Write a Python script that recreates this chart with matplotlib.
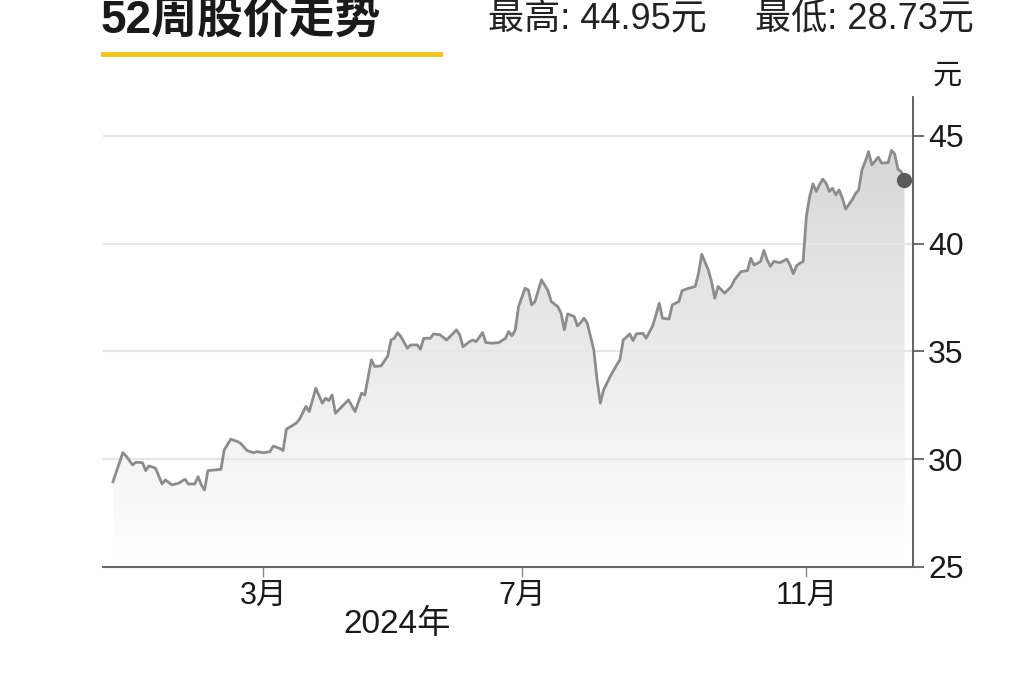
import numpy as np
import matplotlib
matplotlib.use("Agg")
import matplotlib.pyplot as plt
from matplotlib import font_manager
from matplotlib.patches import PathPatch
from matplotlib.colors import LinearSegmentedColormap

# ---------------- data ----------------
days = [0, 3, 4, 6, 7, 9, 10, 11, 13, 15, 16, 18, 20, 22, 23, 25, 26, 27, 28, 29,
        33, 34, 36, 38, 39, 41, 43, 44, 46, 48, 49, 51, 52, 53, 56, 57, 59, 60, 62, 64,
        65, 66, 67, 68, 70, 72, 74, 76, 77, 79, 80, 82, 84, 85, 86, 87, 88, 90, 91, 93,
        94, 95, 97, 98, 100, 102, 105, 106, 107, 109, 110, 111, 113, 114, 116, 118, 120, 121, 122, 123,
        124, 126, 127, 128, 129, 131, 133, 134, 136, 137, 138, 139, 141, 142, 143, 144, 145, 147, 148, 149,
        150, 151, 152, 154, 155, 156, 158, 159, 160, 162, 163, 165, 166, 167, 168, 170, 171, 173, 174, 176,
        178, 179, 180, 182, 183, 184, 185, 187, 189, 190, 192, 194, 195, 196, 198, 199, 200, 201, 202, 204,
        206, 207, 208, 209, 210, 211, 212, 213, 214, 215, 216, 217, 218, 219, 220, 221, 222, 223, 224, 226,
        227, 228, 229, 230, 231, 232, 234, 235, 237, 238, 239, 240, 241, 242]
prices = [28.96, 30.30, 30.15, 29.73, 29.86, 29.84, 29.47, 29.69, 29.58, 28.85, 29.04, 28.81, 28.88, 29.07, 28.85, 28.85, 29.19, 28.81, 28.57, 29.47,
          29.53, 30.43, 30.93, 30.82, 30.74, 30.40, 30.30, 30.35, 30.30, 30.35, 30.61, 30.50, 30.40, 31.39, 31.67, 31.85, 32.45, 32.21, 33.29, 32.60,
          32.83, 32.72, 32.98, 32.13, 32.44, 32.75, 32.21, 33.06, 32.98, 34.61, 34.30, 34.33, 34.79, 35.53, 35.61, 35.87, 35.69, 35.15, 35.30, 35.30,
          35.10, 35.61, 35.61, 35.81, 35.77, 35.53, 36.00, 35.77, 35.22, 35.45, 35.53, 35.45, 35.87, 35.41, 35.38, 35.41, 35.61, 35.92, 35.72, 36.00,
          37.08, 37.93, 37.85, 37.16, 37.31, 38.32, 37.82, 37.31, 37.08, 36.77, 36.00, 36.74, 36.62, 36.18, 36.34, 36.54, 36.31, 35.07, 33.68, 32.60,
          33.21, 33.52, 33.83, 34.37, 34.61, 35.53, 35.81, 35.50, 35.81, 35.84, 35.61, 36.18, 36.69, 37.24, 36.54, 36.50, 37.16, 37.31, 37.82, 37.93,
          38.01, 38.60, 39.50, 38.78, 38.24, 37.47, 38.01, 37.70, 38.01, 38.32, 38.70, 38.75, 39.32, 39.01, 39.17, 39.68, 39.25, 38.94, 39.17, 39.12,
          39.28, 39.01, 38.60, 38.97, 39.09, 39.17, 41.26, 42.18, 42.77, 42.42, 42.73, 42.99, 42.81, 42.42, 42.57, 42.26, 42.49, 42.11, 41.60, 42.03,
          42.31, 42.49, 43.42, 43.81, 44.27, 43.65, 44.01, 43.73, 43.76, 44.32, 44.16, 43.45, 43.34, 42.96]

month_ticks = [46, 125, 212]
month_labels = ["3月", "7月", "11月"]
y_ticks = [25, 30, 35, 40, 45]
year_label = "2024年"
title = "52周股价走势"
high_text = "最高: 44.95元"
low_text = "最低: 28.73元"
unit_text = "元"

# ---------------- fonts ----------------
def has_font(name):
    try:
        font_manager.findfont(font_manager.FontProperties(family=name), fallback_to_default=False)
        return True
    except Exception:
        return False

narrow = "Liberation Sans Narrow" if has_font("Liberation Sans Narrow") else "Liberation Sans"
FAM = [narrow, "Noto Sans CJK SC", "DejaVu Sans"]
plt.rcParams["font.family"] = FAM

# ---------------- figure ----------------
W, H = 1024, 682
fig = plt.figure(figsize=(W / 100, H / 100), dpi=100)
fig.patch.set_facecolor("white")

def px(x, y):
    return x / W, 1 - y / H

left, right, top, bottom = 103, 913, 97, 567
ax = fig.add_axes([left / W, 1 - bottom / H, (right - left) / W, (bottom - top) / H])
ax.set_facecolor("white")

ymin, ymax = 25, 46.8
xmin, xmax = -3.06, 244.6
ax.set_xlim(xmin, xmax)
ax.set_ylim(ymin, ymax)

# gradient fill under the line
poly = ax.fill_between(days, prices, ymin, facecolor="none", edgecolor="none")
path = poly.get_paths()[0]
patch = PathPatch(path, transform=ax.transData, facecolor="none", edgecolor="none")
ax.add_patch(patch)
cmap = LinearSegmentedColormap.from_list("g", ["#ffffff", "#d2d2d2"])
grad = np.linspace(0, 1, 256).reshape(-1, 1)
im = ax.imshow(grad, extent=[xmin, xmax, ymin, ymax], origin="lower", aspect="auto",
               cmap=cmap, vmin=0, vmax=1, zorder=1, interpolation="bicubic")
im.set_clip_path(patch)

# grid lines
for yv in y_ticks[1:]:
    ax.axhline(yv, color="#e6e6e6", lw=1.5, zorder=1.5)

# line and end marker
ax.plot(days, prices, color="#8c8c8c", lw=2.0, zorder=3, solid_joinstyle="round")
ax.plot(days[-1], prices[-1], "o", color="#5a5a5a", ms=10, zorder=4)

# spines
for s in ["top", "left"]:
    ax.spines[s].set_visible(False)
ax.spines["right"].set_color("#555555")
ax.spines["right"].set_linewidth(1.3)
ax.spines["bottom"].set_color("#666666")
ax.spines["bottom"].set_linewidth(1.5)

ax.yaxis.tick_right()
ax.set_yticks(y_ticks)
ax.set_yticklabels([str(v) for v in y_ticks])
ax.tick_params(axis="y", direction="out", length=8, width=1.2, color="#555555",
               labelsize=23, labelcolor="#1a1a1a", pad=3)
ax.set_xticks(month_ticks)
ax.set_xticklabels(month_labels)
ax.tick_params(axis="x", direction="out", length=7, width=1.0, color="#888888",
               labelsize=22, labelcolor="#1a1a1a", pad=3)

# texts
fig.text(*px(397, 624), year_label, fontsize=24, color="#1a1a1a", ha="center", va="center")
fig.text(*px(947, 76), unit_text, fontsize=21, color="#1a1a1a", ha="center", va="center")
fig.text(*px(101, 21), title, fontsize=33, fontweight="bold", color="#1a1a1a",
         ha="left", va="center")
fig.add_artist(plt.Line2D([103 / W, 440 / W], [1 - 54 / H, 1 - 54 / H], color="#f5c518", lw=3.5))
fig.text(*px(488, 19), high_text, fontsize=26, color="#222222", ha="left", va="center")
fig.text(*px(755, 19), low_text, fontsize=26, color="#222222", ha="left", va="center")

fig.savefig("out.png", dpi=100, facecolor="white")
